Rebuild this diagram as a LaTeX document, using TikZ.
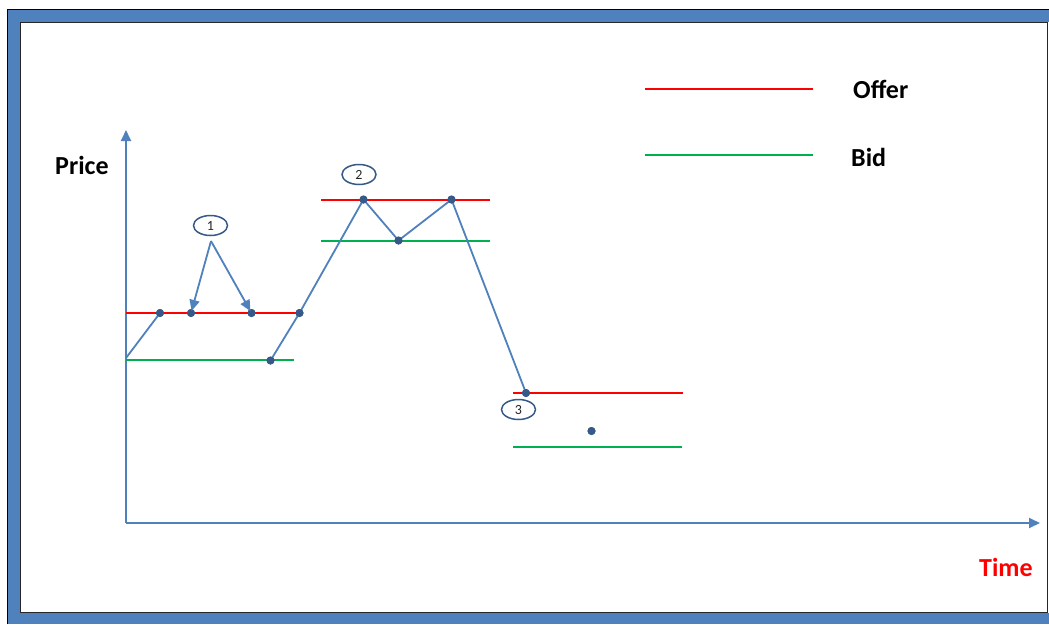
\documentclass[tikz,border=0pt]{standalone}
\usepackage{fontspec}
\setmainfont{Carlito}
\usetikzlibrary{arrows.meta,shapes.geometric}
\definecolor{frameblue}{RGB}{79,129,189}
\definecolor{lineblue}{RGB}{79,129,189}
\definecolor{dotblue}{RGB}{54,89,135}
\definecolor{offerred}{RGB}{255,0,0}
\definecolor{bidgreen}{RGB}{0,176,80}
\tikzset{
  dot/.style={circle,fill=dotblue,inner sep=0pt,minimum size=8pt},
  pathline/.style={draw=lineblue,line width=1.8pt},
  axisline/.style={draw=lineblue,line width=1.8pt,-{Triangle[length=11pt,width=10pt]}},
  offerline/.style={draw=offerred,line width=1.8pt},
  bidline/.style={draw=bidgreen,line width=1.8pt},
  callout/.style={ellipse,draw=dotblue,line width=1.5pt,minimum width=34pt,minimum height=20pt,inner sep=0pt,font=\fontsize{14}{14}\selectfont,text=black!85},
  pointer/.style={draw=lineblue,line width=1.8pt,-{Triangle[length=11pt,width=10pt]},shorten >=-2pt},
  bigtext/.style={font=\fontsize{26}{26}\selectfont\bfseries,inner sep=0pt}
}
\begin{document}
\begin{tikzpicture}[x=1pt,y=-1pt]
\useasboundingbox (0,0) rectangle (1049,624);
% frame
\fill[frameblue] (7,9) rectangle (1049,624);
\draw[black,line width=1.6pt] (7.5,624) -- (7.5,9.5) -- (1049,9.5);
\fill[white] (20,22) rectangle (1049,613);
\draw[black!85,line width=1.5pt] (20.5,613) -- (20.5,22.5) -- (1047.5,22.5) -- (1047.5,612.5) -- (20.5,612.5);
% axes
\coordinate (origin) at (126,523);
\coordinate (ytop) at (126,130);
\coordinate (xend) at (1040,523);
\draw[axisline] (origin) -- (ytop);
\draw[axisline] (origin) -- (xend);
\node[bigtext,anchor=west] (price) at (55,165) {Price};
\node[bigtext,anchor=west,text=offerred] (time) at (979,567) {Time};
% legend
\coordinate (lo1) at (645,89); \coordinate (lo2) at (813,89);
\coordinate (lb1) at (645,155); \coordinate (lb2) at (813,155);
\draw[offerline,line width=1.5pt] (lo1) -- (lo2);
\draw[bidline,line width=1.5pt] (lb1) -- (lb2);
\node[bigtext,anchor=west] (offer) at (853,89) {Offer};
\node[bigtext,anchor=west] (bid) at (851,157) {Bid};
% bid/offer levels
\coordinate (r1a) at (126,313); \coordinate (r1b) at (299,313);
\coordinate (g1a) at (126,360); \coordinate (g1b) at (294,360);
\coordinate (r2a) at (321,200); \coordinate (r2b) at (490,200);
\coordinate (g2a) at (321,241); \coordinate (g2b) at (490,241);
\coordinate (r3a) at (513,393); \coordinate (r3b) at (683,393);
\coordinate (g3a) at (513,447); \coordinate (g3b) at (682,447);
\draw[offerline] (r1a) -- (r1b);
\draw[bidline] (g1a) -- (g1b);
\draw[offerline] (r2a) -- (r2b);
\draw[bidline] (g2a) -- (g2b);
\draw[offerline] (r3a) -- (r3b);
\draw[bidline] (g3a) -- (g3b);
% price path
\coordinate (p0) at (126,358);
\node[dot] (d1) at (160,313) {};
\node[dot] (d2) at (191,313) {};
\node[dot] (d3) at (251.5,313) {};
\node[dot] (d4) at (270.5,360.5) {};
\node[dot] (d5) at (299.5,313) {};
\node[dot] (d6) at (363.5,199.5) {};
\node[dot] (d7) at (398.5,240.5) {};
\node[dot] (d8) at (451.5,199.5) {};
\node[dot] (d9) at (526,393) {};
\node[dot] (d10) at (591.5,431) {};
\draw[pathline,line join=round] (p0) -- (d1.center);
\draw[pathline,line join=round] (d4.center) -- (d5.center) -- (d6.center) -- (d7.center) -- (d8.center) -- (d9.center);
\foreach \d in {d1,d2,d3,d4,d5,d6,d7,d8,d9,d10} \node[dot] at (\d) {};
% callouts
\node[callout] (c1) at (210.5,225.5) {1};
\node[callout] (c2) at (359,174.5) {2};
\node[callout] (c3) at (518.5,409.5) {3};
\coordinate (c1tip) at (211,241);
\draw[pointer] (c1tip) -- (d2);
\draw[pointer] (c1tip) -- (d3);
\end{tikzpicture}
\end{document}
